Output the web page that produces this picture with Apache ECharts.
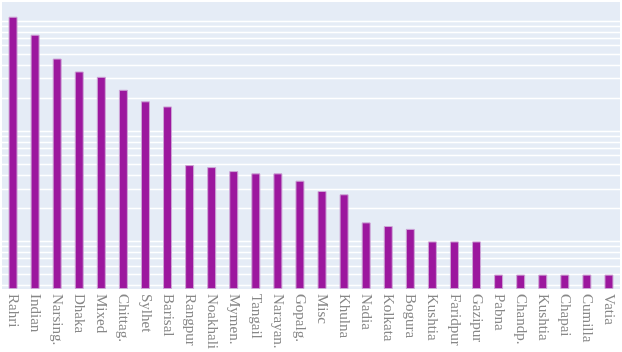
<!DOCTYPE html>
<html>
<head>
<meta charset="utf-8">
<script src="https://cdn.jsdelivr.net/npm/echarts@6/dist/echarts.min.js"></script>
<style>html,body{margin:0;padding:0;background:#fff}#c{width:622px;height:352px}</style>
</head>
<body>
<div id="c"></div>
<script>
const categories = ["Rahri","Indian","Narsing.","Dhaka","Mixed","Chittag.","Sylhet","Barisal","Rangpur","Noakhali","Mymen.","Tangail","Narayan.","Gopalg.","Misc","Khulna","Nadia","Kolkata","Bogura","Kushtia","Faridpur","Gazipur","Pabna","Chandp.","Kushtia","Chapai","Cumilla","Vatia"];
const values = [109.6,75.3,45.7,34.9,31.2,23.8,18.7,16.8,4.93,4.73,4.35,4.15,4.15,3.56,2.87,2.68,1.49,1.38,1.30,1.0,1.0,1.0,0.5,0.5,0.5,0.5,0.5,0.5];
const gridValues = [0.4,0.5,0.6,0.7,0.8,0.9,1,2,3,4,5,6,7,8,9,10,20,30,40,50,60,70,80,90,100];

const chart = echarts.init(document.getElementById('c'), null, {renderer:'canvas'});
chart.setOption({
  animation:false,
  backgroundColor:'#ffffff',
  grid:{left:2,right:2,top:2,bottom:62,show:true,backgroundColor:'#e5ecf6',borderWidth:0},
  xAxis:{
    type:'category',
    data:categories,
    axisLine:{show:false},
    axisTick:{show:false},
    axisLabel:{rotate:-90,interval:0,margin:5,color:'#888888',fontFamily:'Liberation Serif',fontSize:15}
  },
  yAxis:{
    type:'log',
    logBase:10,
    min:0.37,
    max:149,
    startValue:0.37,
    axisLine:{show:false},
    axisTick:{show:false},
    axisLabel:{show:false},
    splitLine:{show:false}
  },
  series:[
    {
      type:'line',
      data:[],
      z:1,
      silent:true,
      markLine:{
        silent:true,
        z:1,
        symbol:['none','none'],
        label:{show:false},
        lineStyle:{color:'#ffffff',type:'solid',width:1.3,opacity:1},
        data:gridValues.map(v=>({yAxis:v}))
      }
    },
    {
      type:'bar',
      data:values,
      z:3,
      barWidth:9,
      itemStyle:{color:'#9c179e',borderColor:'#cda6d6',borderWidth:1}
    }
  ]
});
</script>
</body>
</html>
